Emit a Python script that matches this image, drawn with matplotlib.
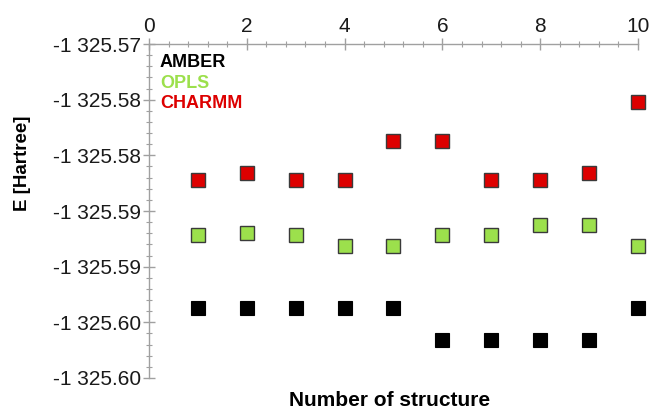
import matplotlib
matplotlib.use("Agg")
import matplotlib.pyplot as plt
from matplotlib.ticker import FixedLocator, FixedFormatter, MultipleLocator

plt.rcParams['font.family'] = ['Liberation Sans', 'DejaVu Sans']

# energies (Hartree)
structures = [1, 2, 3, 4, 5, 6, 7, 8, 9, 10]
amber = [-1325.5937, -1325.5937, -1325.5937, -1325.5937, -1325.5937,
         -1325.5966, -1325.5966, -1325.5966, -1325.5966, -1325.5937]
opls = [-1325.5872, -1325.5870, -1325.5872, -1325.5881, -1325.5881,
        -1325.5872, -1325.5872, -1325.5863, -1325.5863, -1325.5881]
charmm = [-1325.5822, -1325.5816, -1325.5822, -1325.5822, -1325.5787,
          -1325.5787, -1325.5822, -1325.5822, -1325.5816, -1325.5752]

ytick_values = [-1325.570, -1325.575, -1325.580, -1325.585, -1325.590, -1325.595, -1325.600]
ytick_labels = ['-1 325.57', '-1 325.58', '-1 325.58', '-1 325.59',
                '-1 325.59', '-1 325.60', '-1 325.60']
xtick_values = [0, 2, 4, 6, 8, 10]

fig = plt.figure(figsize=(6.52, 4.09), dpi=100)
ax = fig.add_axes([0.2285, 0.0758, 0.75, 0.8166])

ax.plot(structures, amber, 's', ms=10, color='black', mec='black', mew=0.8,
        label='AMBER', clip_on=False)
ax.plot(structures, opls, 's', ms=10, color='#9ce04c', mec='#3a3a3a', mew=1.0,
        label='OPLS', clip_on=False)
ax.plot(structures, charmm, 's', ms=10, color='#dd0000', mec='#3a3a3a', mew=1.0,
        label='CHARMM', clip_on=False)

ax.set_xlim(0, 10)
ax.set_ylim(ytick_values[-1], ytick_values[0])

ax.xaxis.tick_top()
ax.xaxis.set_major_locator(FixedLocator(xtick_values))
ax.xaxis.set_minor_locator(MultipleLocator(0.4))
ax.yaxis.set_major_locator(FixedLocator(ytick_values))
ax.yaxis.set_major_formatter(FixedFormatter(ytick_labels))
ax.yaxis.set_minor_locator(MultipleLocator(0.001))

for s in ['right', 'bottom']:
    ax.spines[s].set_visible(False)
for s in ['left', 'top']:
    ax.spines[s].set_color('#a0a0a0')
    ax.spines[s].set_linewidth(1.0)

ax.tick_params(which='major', direction='inout', length=8, width=1.0, color='#a0a0a0',
               labelsize=15, labelcolor='#1a1a1a', pad=2)
ax.tick_params(which='minor', direction='inout', length=5, width=0.8, color='#a0a0a0')

ax.xaxis.set_label_position('bottom')
ax.set_xlabel('Number of structure', fontsize=15, fontweight='bold')
ax.xaxis.set_label_coords(0.493, -0.039)
ax.set_ylabel('E [Hartree]', fontsize=13.5, fontweight='bold')
ax.yaxis.set_label_coords(-0.242, 0.644)

leg = ax.legend(loc='upper left', bbox_to_anchor=(0.0225, 0.969), frameon=False,
                borderpad=0, borderaxespad=0,
                handlelength=0, handletextpad=0, labelspacing=0.19,
                prop={'size': 13, 'weight': 'bold'})
for h in leg.legend_handles:
    h.set_visible(False)
for t, c in zip(leg.get_texts(), ['black', '#9ce04c', '#dd0000']):
    t.set_color(c)

fig.savefig('out.png', dpi=100)
